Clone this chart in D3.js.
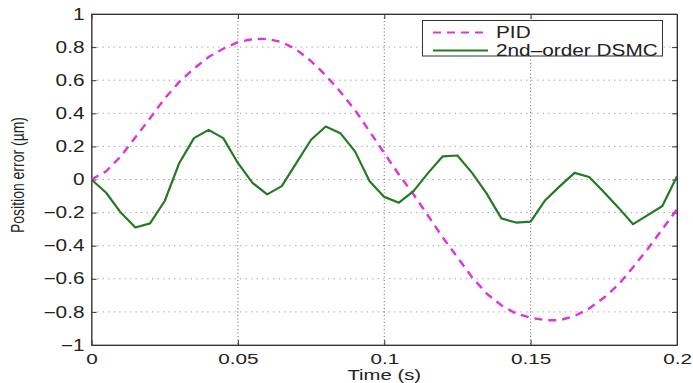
<!DOCTYPE html>
<html>
<head>
<meta charset="utf-8">
<script src="https://cdn.jsdelivr.net/npm/d3@7"></script>
<style>
  body { margin: 0; background: #fff; }
  text { font-family: "Liberation Sans", Arial, sans-serif; fill: #222; }
</style>
</head>
<body>
<svg width="693" height="383"></svg>
<script>
// sample times (s)
const time = [0, 0.005, 0.01, 0.015, 0.02, 0.025, 0.03, 0.035, 0.04, 0.045,
  0.05, 0.055, 0.06, 0.065, 0.07, 0.075, 0.08, 0.085, 0.09, 0.095,
  0.1, 0.105, 0.11, 0.115, 0.12, 0.125, 0.13, 0.135, 0.14, 0.145,
  0.15, 0.155, 0.16, 0.165, 0.17, 0.175, 0.18, 0.185, 0.19, 0.195, 0.2];

const pid = [0, 0.05, 0.14, 0.255, 0.37, 0.49, 0.59, 0.67, 0.74, 0.79,
  0.83, 0.848, 0.85, 0.83, 0.785, 0.715, 0.63, 0.53, 0.42, 0.29,
  0.16, 0.03, -0.09, -0.22, -0.35, -0.47, -0.59, -0.69, -0.76, -0.81,
  -0.835, -0.85, -0.85, -0.825, -0.78, -0.715, -0.635, -0.53, -0.42, -0.3, -0.18];

const dsmc = [0, -0.08, -0.2, -0.29, -0.265, -0.13, 0.1, 0.25, 0.3, 0.25,
  0.1, -0.02, -0.09, -0.04, 0.1, 0.24, 0.32, 0.28, 0.17, -0.01,
  -0.105, -0.14, -0.07, 0.04, 0.14, 0.145, 0.04, -0.085, -0.235, -0.26,
  -0.255, -0.125, -0.04, 0.04, 0.015, -0.075, -0.17, -0.27, -0.215, -0.16, 0.02];

const xTicks = [0, 0.05, 0.1, 0.15, 0.2];
const yTicks = [-1, -0.8, -0.6, -0.4, -0.2, 0, 0.2, 0.4, 0.6, 0.8, 1];
const seriesNames = ["PID", "2nd\u2013order DSMC"];

const svg = d3.select("svg");
const plotL = 91.5, plotR = 677, plotT = 14, plotB = 345;
const sx = 1.3; // the picture is stretched sideways

const x = d3.scaleLinear().domain([0, 0.2]).range([plotL, plotR]);
const y = d3.scaleLinear().domain([-1, 1]).range([plotB, plotT]);
const fmt = d3.format("~g");

// grid
svg.append("g")
  .selectAll("line")
  .data(yTicks.slice(1, -1))
  .join("line")
    .attr("x1", plotL).attr("x2", plotR)
    .attr("y1", d => y(d)).attr("y2", d => y(d))
    .attr("stroke", "#aaa")
    .attr("stroke-dasharray", "1.5,4");

svg.append("g")
  .selectAll("line")
  .data(xTicks.slice(1, -1))
  .join("line")
    .attr("x1", d => x(d)).attr("x2", d => x(d))
    .attr("y1", plotT).attr("y2", plotB)
    .attr("stroke", "#666")
    .attr("stroke-dasharray", "1,2.5");

// frame
svg.append("rect")
  .attr("x", plotL).attr("y", plotT)
  .attr("width", plotR - plotL).attr("height", plotB - plotT)
  .attr("fill", "none")
  .attr("stroke", "#666");

// axes
const xAxis = svg.append("g")
  .attr("transform", `translate(0,${plotB})`)
  .call(d3.axisBottom(x).tickValues(xTicks).tickFormat(fmt).tickSizeInner(-5).tickSizeOuter(0).tickPadding(8));
svg.append("g")
  .attr("transform", `translate(0,${plotT})`)
  .call(d3.axisTop(x).tickValues(xTicks).tickFormat("").tickSizeInner(-5).tickSizeOuter(0));
const yAxis = svg.append("g")
  .attr("transform", `translate(${plotL},0)`)
  .call(d3.axisLeft(y).tickValues(yTicks).tickFormat(fmt).tickSizeInner(-5).tickSizeOuter(0).tickPadding(6));
svg.append("g")
  .attr("transform", `translate(${plotR},0)`)
  .call(d3.axisRight(y).tickValues(yTicks).tickFormat("").tickSizeInner(-5).tickSizeOuter(0));

svg.selectAll(".domain").attr("stroke", "#333");
svg.selectAll(".tick line").attr("stroke", "#333");

xAxis.selectAll("text")
  .attr("font-size", 15)
  .attr("font-family", "Liberation Sans, Arial, sans-serif")
  .attr("fill", "#222")
  .attr("transform", "scale(1.38,1)");
yAxis.selectAll("text")
  .attr("font-size", 16)
  .attr("font-family", "Liberation Sans, Arial, sans-serif")
  .attr("fill", "#222")
  .attr("x", -7 / sx)
  .attr("transform", `scale(${sx},1)`);

// series
const pts = (vals) => time.map((t, i) => [t, vals[i]]);
const line = d3.line().x(d => x(d[0])).y(d => y(d[1]));

svg.append("path")
  .attr("d", line(pts(pid)))
  .attr("fill", "none")
  .attr("stroke", "#dd33dd")
  .attr("stroke-width", 2.4)
  .attr("stroke-dasharray", "8,6");

svg.append("path")
  .attr("d", line(pts(dsmc)))
  .attr("fill", "none")
  .attr("stroke", "#237a23")
  .attr("stroke-width", 2.2)
  .attr("stroke-linejoin", "round");

// axis labels
svg.append("text")
  .attr("transform", `translate(${(plotL + plotR) / 2},379.5) scale(1.45,1)`)
  .attr("text-anchor", "middle")
  .attr("font-size", 14)
  .text("Time (s)");

svg.append("text")
  .attr("transform", `translate(24,175) scale(${sx},1) rotate(-90)`)
  .attr("text-anchor", "middle")
  .attr("font-size", 14)
  .text("Position error (\u00b5m)");

// legend
const lg = svg.append("g");
lg.append("rect")
  .attr("x", 422.5).attr("y", 20.5)
  .attr("width", 240).attr("height", 35.5)
  .attr("fill", "#fff")
  .attr("stroke", "#333");

const styles = [
  { stroke: "#dd33dd", dash: "8,6" },
  { stroke: "#237a23", dash: null }
];
seriesNames.forEach((name, i) => {
  const yy = 32.5 + i * 18;
  lg.append("line")
    .attr("x1", 433).attr("x2", 488)
    .attr("y1", yy).attr("y2", yy)
    .attr("stroke", styles[i].stroke)
    .attr("stroke-width", 2.2)
    .attr("stroke-dasharray", styles[i].dash);
  lg.append("text")
    .attr("transform", `translate(496,${yy + 5.5}) scale(${sx},1)`)
    .attr("font-size", 16)
    .text(name);
});
</script>
</body>
</html>
